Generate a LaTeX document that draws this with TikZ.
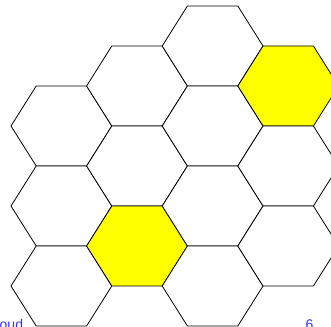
\documentclass[tikz,border=0pt]{standalone}
\usepackage{fontspec}
\setmainfont{Liberation Sans}
\definecolor{labelblue}{RGB}{51,51,255}
\definecolor{hexyellow}{RGB}{255,255,0}
\newcommand\hexcell[3][white]{%
  \draw[cell, fill=#1] ({#2-50.4},#3) -- ++(25.2,-40) -- ++(50.4,0) -- ++(25.2,40) -- ++(-25.2,40) -- ++(-50.4,0) -- cycle;}
\begin{document}
\begin{tikzpicture}[x=1pt, y=-1pt,
  cell/.style={draw=black, line width=0.8pt, line join=miter},
  lbl/.style={text=labelblue, font=\fontsize{14}{16}\selectfont, inner sep=0pt, anchor=base west}]
\useasboundingbox (0,0) rectangle (331,326);
\clip (0,0) rectangle (331,326);
% column 0
\hexcell{61.4}{126}
\hexcell{61.4}{206}
\hexcell{61.4}{286}
% column 1
\hexcell{137}{86}
\hexcell{137}{166}
\hexcell[hexyellow]{137}{246}
% column 2
\hexcell{212.6}{46}
\hexcell{212.6}{126}
\hexcell{212.6}{206}
\hexcell{212.6}{286}
% column 3
\hexcell[hexyellow]{288.2}{86}
\hexcell{288.2}{166}
\hexcell{288.2}{246}
% labels
\node[lbl] (l1) at (-0.5,329) {oud};
\node[lbl] (l2) at (305.5,329) {6};
\end{tikzpicture}
\end{document}
